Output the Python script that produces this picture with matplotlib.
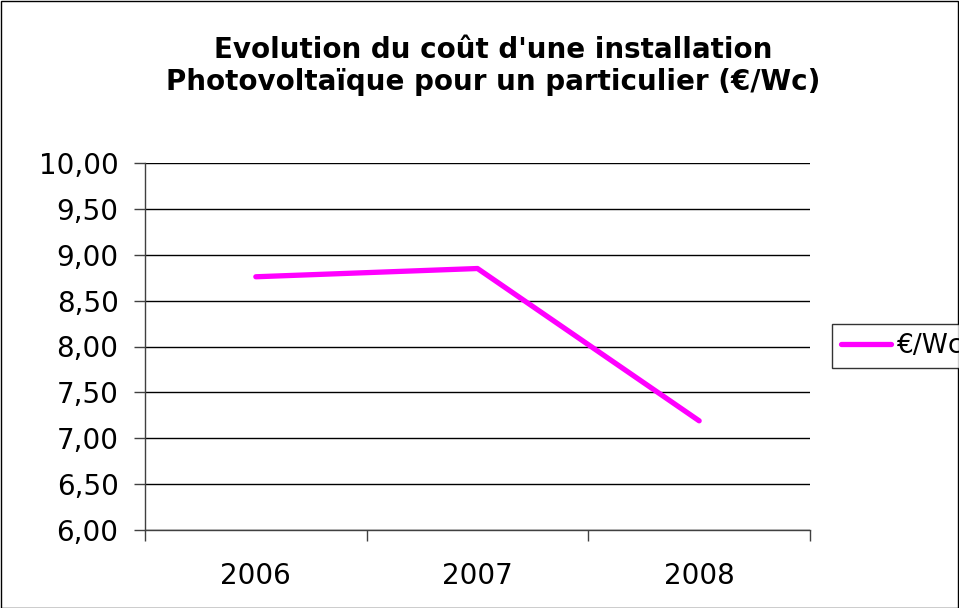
import matplotlib
matplotlib.use('Agg')
import matplotlib.pyplot as plt
from matplotlib.patches import Rectangle
from matplotlib.ticker import FuncFormatter

years = ['2006', '2007', '2008']
cost = [8.76, 8.85, 7.19]
series_label = '€/Wc'
title = "Evolution du coût d'une installation\nPhotovoltaïque pour un particulier (€/Wc)"

plt.rcParams['font.family'] = 'DejaVu Sans'

W, H = 959, 608
fig = plt.figure(figsize=(W / 100, H / 100), dpi=100)
fig.patch.set_facecolor('white')
fig.patches.append(Rectangle((0.5 / W, 0.5 / H), 1 - 1.5 / W, 1 - 1.5 / H,
                             transform=fig.transFigure, fill=False,
                             edgecolor='black', linewidth=1))

ax = fig.add_axes([145 / W, (H - 530) / H, (810 - 145) / W, (530 - 163) / H])
x = list(range(len(years)))
ax.plot(x, cost, color='#FF00FF', linewidth=3.8, solid_capstyle='round',
        label=series_label, zorder=3)

ax.set_xlim(-0.5, len(years) - 0.5)
ax.set_ylim(6, 10)
ax.set_yticks([6 + 0.5 * i for i in range(9)])
ax.yaxis.set_major_formatter(FuncFormatter(lambda v, p: f'{v:.2f}'.replace('.', ',')))
ax.grid(axis='y', color='black', linewidth=1)
ax.set_axisbelow(True)

ax.set_xticks([i - 0.5 for i in range(len(years) + 1)])
ax.set_xticklabels([])
ax.set_xticks(x, minor=True)
ax.set_xticklabels(years, minor=True)
ax.tick_params(axis='x', which='major', direction='out', length=8, width=1, color='#404040')
ax.tick_params(axis='x', which='minor', length=0, pad=23, labelsize=20)
ax.tick_params(axis='y', direction='out', length=8, width=1, color='#404040',
               pad=11, labelsize=20)

for s in ['top', 'right']:
    ax.spines[s].set_visible(False)
for s in ['left', 'bottom']:
    ax.spines[s].set_color('#404040')
    ax.spines[s].set_linewidth(1)

fig.text(493 / W, 1 - 66 / H, title, ha='center', va='center',
         fontsize=20, fontweight='bold', linespacing=1.15)

leg = fig.legend(loc='center left', bbox_to_anchor=(832 / W, 1 - 346 / H),
                 frameon=True, fancybox=False, fontsize=19, handlelength=1.9,
                 handletextpad=0.2, borderpad=0.35, borderaxespad=0)
leg.get_frame().set_edgecolor('black')
leg.get_frame().set_linewidth(1)

fig.savefig('out.png', dpi=100)
